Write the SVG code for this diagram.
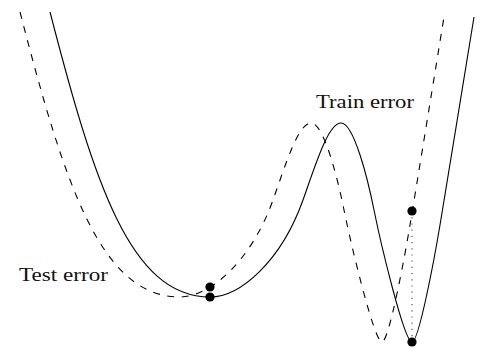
<svg xmlns="http://www.w3.org/2000/svg" width="481" height="349" viewBox="0 0 481 349">
  <style>
    .curve { fill: none; stroke: #000; stroke-width: 1.1; stroke-linecap: butt; stroke-linejoin: round; }
    .dashed { stroke-dasharray: 7 7.5; }
    .dotted { fill: none; stroke: #444; stroke-width: 1.1; stroke-dasharray: 1.2 5; }
    .dot { fill: #000; }
    .label { font-family: "Liberation Serif", "DejaVu Serif", serif; font-size: 19px; fill: #111; }
  </style>
  <defs>
    <path id="errcurve" d="M50,12 C94,182 130,297 210,297 C240,297 281,261.6 303,200 C315,166.4 328,123 341,123 C354,123 368,180 374,210 C380,240 404,342 412,342 C419,342 435,255 440,225 C448,177 466,66 474,17"/>
  </defs>
  <g id="connectors">
    <use id="train-curve" href="#errcurve" class="curve"/>
    <use id="test-curve" href="#errcurve" class="curve dashed" transform="translate(-30,0)"/>
    <line id="gap-line" class="dotted" x1="412" y1="211" x2="412" y2="342"/>
  </g>
  <g id="dot-test-left"><circle class="dot" cx="210" cy="287" r="4.6"/></g>
  <g id="dot-train-left"><circle class="dot" cx="210" cy="297" r="4.6"/></g>
  <g id="dot-test-right"><circle class="dot" cx="412" cy="211" r="4.6"/></g>
  <g id="dot-train-right"><circle class="dot" cx="412" cy="342" r="4.6"/></g>
  <g id="label-train"><text class="label" x="316" y="108" textLength="98" lengthAdjust="spacingAndGlyphs">Train error</text></g>
  <g id="label-test"><text class="label" x="19" y="281" textLength="89" lengthAdjust="spacingAndGlyphs">Test error</text></g>
</svg>
